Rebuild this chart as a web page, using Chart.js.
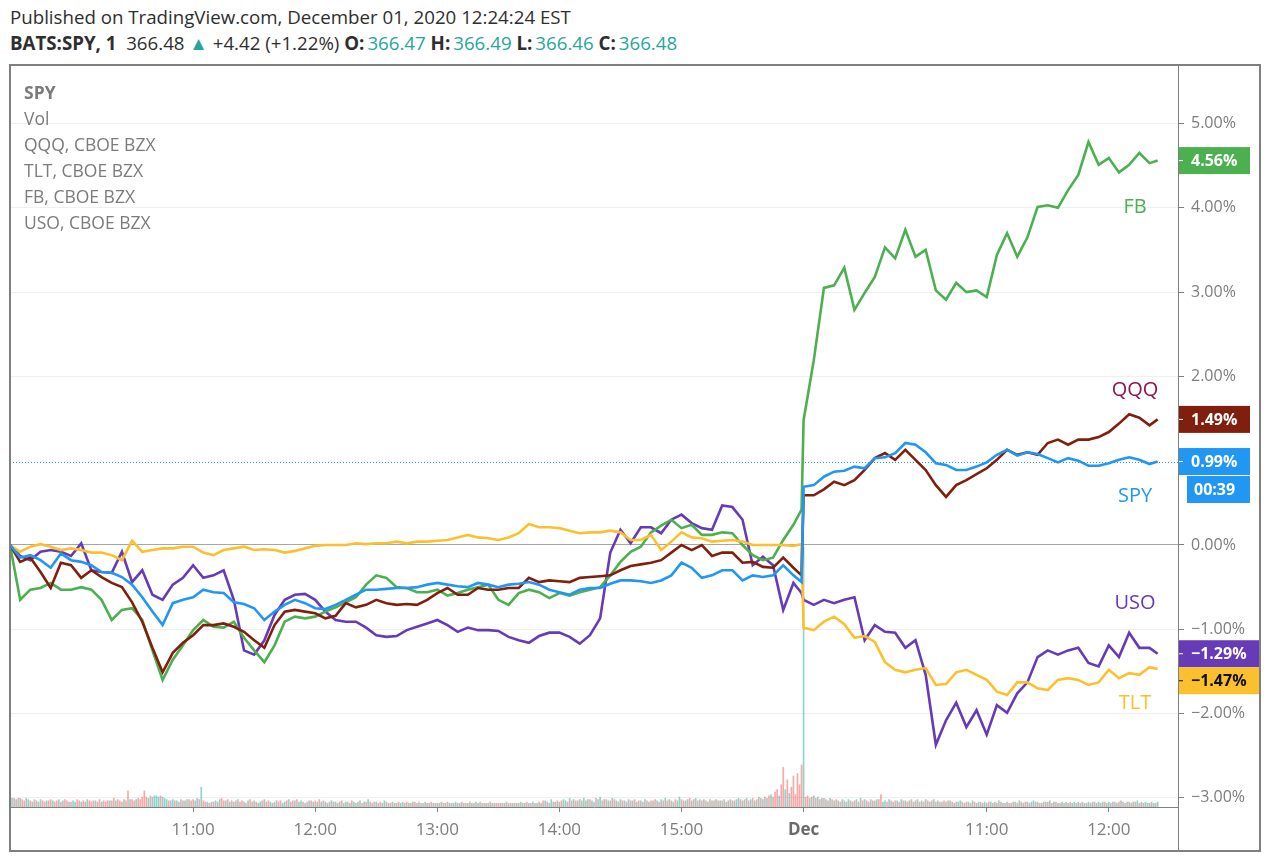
<!doctype html>
<html lang="en">
<head>
<meta charset="utf-8">
<title>SPY, QQQ, TLT, FB, USO</title>
<script src="https://cdn.jsdelivr.net/npm/chart.js@4.4.0/dist/chart.umd.min.js"></script>
<style>
  html, body { margin: 0; padding: 0; background: #fff; }
  body { width: 1270px; height: 861px; position: relative; overflow: hidden; font-family: "Open Sans", sans-serif; }
  #chart { position: absolute; left: 0; top: 0; }
  .hdr { position: absolute; left: 10px; white-space: nowrap; color: #2e2e2e; font-size: 18.7px; line-height: 22px; }
  .hdr b { font-weight: 700; }
  .up { color: #26a69a; }
  .val { margin-left: 3px; }
  .legend { position: absolute; left: 24px; top: 79px; color: #7b7b7b; font-size: 17.5px; line-height: 26px; white-space: nowrap; z-index: 2; }
</style>
</head>
<body>
  <div class="hdr" style="top:6px">Published on TradingView.com, December 01, 2020 12:24:24 EST</div>
  <div class="hdr" style="top:32px"><b>BATS:SPY, 1</b>&nbsp; 366.48 <span class="up">&#9650;</span> +4.42 (+1.22%) <b>O:</b><span class="up val">366.47</span> <b>H:</b><span class="up val">366.49</span> <b>L:</b><span class="up val">366.46</span> <b>C:</b><span class="up val">366.48</span></div>

  <canvas id="chart" width="1270" height="861"></canvas>

  <div class="legend">
    <div><b>SPY</b></div>
    <div>Vol</div>
    <div>QQQ, CBOE BZX</div>
    <div>TLT, CBOE BZX</div>
    <div>FB, CBOE BZX</div>
    <div>USO, CBOE BZX</div>
  </div>

<script>
// minutes since 09:30 Nov 30 (390 = 09:30 Dec 1), sampled every 5 min
const times = [];
for (let m = 0; m <= 385; m += 5) times.push(m);
times.push(389);
for (let m = 390; m <= 560; m += 5) times.push(m);
times.push(564);

const tickPos = [90, 150, 210, 270, 330, 390, 480, 540];
const tickText = ['11:00', '12:00', '13:00', '14:00', '15:00', 'Dec', '11:00', '12:00'];
const yTicks = [-3, -2, -1, 0, 1, 2, 3, 4, 5];

// % change
const spy = [
  0.00,-0.15,-0.12,-0.18,-0.27,-0.10,-0.18,-0.20,-0.24,-0.32,
  -0.33,-0.38,-0.47,-0.62,-0.79,-0.95,-0.69,-0.65,-0.62,-0.53,
  -0.56,-0.57,-0.68,-0.70,-0.75,-0.89,-0.79,-0.71,-0.65,-0.69,
  -0.75,-0.76,-0.71,-0.65,-0.59,-0.53,-0.53,-0.52,-0.51,-0.51,
  -0.50,-0.47,-0.45,-0.47,-0.49,-0.50,-0.45,-0.47,-0.50,-0.47,
  -0.46,-0.44,-0.47,-0.53,-0.56,-0.59,-0.53,-0.51,-0.51,-0.46,
  -0.42,-0.42,-0.43,-0.45,-0.42,-0.36,-0.21,-0.27,-0.39,-0.36,
  -0.30,-0.30,-0.42,-0.36,-0.38,-0.36,-0.24,-0.36,-0.44,
  0.69,0.71,0.81,0.87,0.88,0.93,0.91,1.03,1.04,1.09,
  1.21,1.19,1.10,0.97,0.95,0.89,0.89,0.93,0.98,1.07,
  1.13,1.06,1.10,1.08,1.03,0.98,1.03,1.00,0.94,0.94,
  0.97,1.01,1.04,1.01,0.96,0.99
];
const qqq = [
  0.00,-0.20,-0.15,-0.32,-0.51,-0.21,-0.24,-0.39,-0.30,-0.38,
  -0.45,-0.50,-0.68,-0.91,-1.22,-1.51,-1.28,-1.16,-1.07,-0.95,
  -0.95,-0.93,-0.97,-1.03,-1.13,-1.22,-0.95,-0.79,-0.77,-0.79,
  -0.81,-0.87,-0.84,-0.69,-0.74,-0.71,-0.65,-0.69,-0.71,-0.70,
  -0.71,-0.65,-0.57,-0.51,-0.59,-0.59,-0.51,-0.53,-0.53,-0.51,
  -0.51,-0.39,-0.44,-0.42,-0.43,-0.44,-0.39,-0.38,-0.37,-0.36,
  -0.30,-0.25,-0.23,-0.21,-0.18,-0.09,0.00,-0.06,0.00,-0.13,
  -0.09,-0.09,-0.21,-0.20,-0.26,-0.27,-0.15,-0.27,-0.36,
  0.59,0.59,0.66,0.75,0.71,0.77,0.89,1.03,1.09,1.01,
  1.13,1.01,0.89,0.71,0.57,0.71,0.77,0.84,0.91,1.01,
  1.13,1.07,1.10,1.07,1.21,1.25,1.19,1.25,1.25,1.28,
  1.34,1.44,1.55,1.51,1.42,1.49
];
const tlt = [
  0.00,-0.08,-0.02,0.01,-0.02,-0.06,-0.04,-0.06,-0.09,-0.09,
  -0.12,-0.18,0.05,-0.08,-0.06,-0.04,-0.04,-0.02,-0.02,-0.09,
  -0.12,-0.06,-0.04,-0.02,-0.06,-0.05,-0.06,-0.09,-0.07,-0.04,
  -0.01,0.00,0.00,0.00,0.02,0.01,0.02,0.02,0.04,0.02,
  0.04,0.04,0.05,0.06,0.09,0.12,0.09,0.08,0.06,0.09,
  0.14,0.25,0.21,0.21,0.20,0.17,0.14,0.15,0.15,0.17,
  0.15,0.06,0.06,0.12,-0.06,0.04,0.15,0.09,0.08,0.04,
  0.05,0.06,0.04,0.00,0.00,0.00,0.00,-0.01,0.01,
  -0.98,-1.01,-0.91,-0.85,-0.94,-1.10,-1.08,-1.15,-1.39,-1.48,
  -1.51,-1.48,-1.46,-1.66,-1.65,-1.51,-1.48,-1.54,-1.60,-1.74,
  -1.78,-1.63,-1.63,-1.70,-1.72,-1.60,-1.58,-1.60,-1.66,-1.63,
  -1.48,-1.58,-1.52,-1.54,-1.45,-1.47
];
const fb = [
  0.00,-0.65,-0.53,-0.51,-0.45,-0.53,-0.53,-0.50,-0.53,-0.65,
  -0.89,-0.77,-0.75,-0.89,-1.25,-1.60,-1.36,-1.19,-1.01,-0.89,
  -0.97,-0.98,-0.91,-1.10,-1.25,-1.39,-1.19,-0.91,-0.85,-0.87,
  -0.85,-0.79,-0.74,-0.68,-0.62,-0.47,-0.36,-0.39,-0.50,-0.51,
  -0.56,-0.56,-0.53,-0.60,-0.57,-0.53,-0.50,-0.47,-0.65,-0.71,
  -0.57,-0.53,-0.56,-0.63,-0.57,-0.60,-0.56,-0.53,-0.50,-0.36,
  -0.20,-0.08,-0.02,0.15,0.23,0.30,0.20,0.24,0.12,0.12,
  0.15,0.14,0.00,-0.12,-0.18,-0.15,0.06,0.24,0.42,
  1.48,2.19,3.05,3.08,3.29,2.79,2.99,3.18,3.53,3.40,
  3.74,3.42,3.50,3.02,2.91,3.11,3.00,3.02,2.94,3.44,
  3.70,3.42,3.65,4.01,4.03,4.00,4.21,4.39,4.78,4.51,
  4.59,4.42,4.51,4.65,4.53,4.56
];
const uso = [
  0.00,-0.13,-0.18,-0.08,-0.06,-0.08,-0.13,0.02,-0.30,-0.32,
  -0.33,-0.08,-0.44,-0.30,-0.59,-0.65,-0.47,-0.39,-0.24,-0.39,
  -0.36,-0.30,-0.65,-1.25,-1.30,-1.13,-0.83,-0.65,-0.59,-0.58,
  -0.65,-0.79,-0.89,-0.91,-0.91,-0.98,-1.07,-1.09,-1.08,-1.01,
  -0.97,-0.93,-0.89,-0.95,-1.03,-0.98,-1.01,-1.01,-1.02,-1.09,
  -1.13,-1.16,-1.08,-1.04,-1.04,-1.09,-1.17,-1.07,-0.87,-0.09,
  0.18,0.02,0.21,0.21,0.14,0.30,0.36,0.26,0.20,0.18,
  0.47,0.45,0.30,-0.24,-0.14,-0.24,-0.77,-0.45,-0.57,
  -0.65,-0.71,-0.65,-0.69,-0.65,-0.62,-1.13,-0.95,-1.03,-1.04,
  -1.22,-1.13,-1.54,-2.37,-2.08,-1.87,-2.16,-1.96,-2.25,-1.90,
  -1.99,-1.76,-1.63,-1.33,-1.25,-1.30,-1.25,-1.22,-1.40,-1.44,
  -1.19,-1.33,-1.04,-1.22,-1.22,-1.29
];

// SPY 1-min volume, one per minute; sign = bar direction (+ up, - down)
const spyVol = [
  -9,7,-7,6,-7,7,-6,-5,7,6, -5,4,-6,5,-4,6,-5,-4,5,-5, -6,5,-4,-5,6,-4,5,-6,-5,4, -4,5,4,-6,-5,4,-5,-4,6,-5,
  -4,-5,5,-4,-6,4,-5,-4,-5,5, -5,-7,5,-6,-5,-4,6,-5,-13,6, -6,-5,6,-7,-6,-8,-13,-8,7,-9, 8,9,9,8,-9,8,7,6,-5,5,
  6,-5,5,-4,6,-5,5,-6,6,-5, -6,5,7,-6,16,-5,-4,4,-3,4, -4,5,-4,6,-7,-5,5,-6,4,-5, 4,-5,6,-4,-5,4,-3,5,-6,-4,
  5,-4,3,4,-5,6,-4,-5,4,3, -4,5,-4,-5,3,4,-5,6,-4,-5, 5,-6,4,5,-4,3,-4,5,-5,4, -5,4,-6,4,-5,4,3,-4,5,-4,
  4,-3,4,-5,3,4,-4,3,-5,4, 3,-4,5,-3,4,-4,6,-4,3,-4, 4,-3,-4,3,5,-4,3,-3,4,-3, 3,-4,3,4,-3,-4,3,-3,4,-4,
  3,-4,3,-3,4,-3,3,-4,3,-3, 3,-3,4,-3,3,-4,3,-3,3,4, -3,3,-4,3,-3,3,-4,3,-3,4, 3,-4,3,-3,3,-3,4,-3,3,-3,
  -3,3,-3,3,-4,3,-3,3,-3,3, -3,4,-3,3,-4,3,-3,4,-3,3, -4,3,-5,5,-4,3,6,-4,4,-5, 4,-5,6,5,-4,7,-5,6,-5,5,
  -6,5,7,-5,6,-6,5,4,-7,6, 8,-5,6,-6,5,-5,7,-6,5,-4, 6,-5,5,-4,6,-5,5,-6,4,-5, 5,-4,6,-5,4,-5,5,-6,5,-4,
  6,-5,7,-5,6,-5,4,-6,5,8, -6,5,-5,6,-7,5,-6,7,-5,6, -5,6,-5,4,-6,5,-5,6,-5,5, -5,6,-4,5,-6,5,-5,6,7,-6,
  5,-6,7,-5,6,-7,5,-6,8,-7, 6,-8,7,-9,10,-8,-12,-14,9,-18, -32,14,-22,11,-16,-25,-10,-27,-18,-34,
  210,-8,-9,7,-8,9,-7,8,-6,7, -7,6,-5,7,-6,5,-6,5,-4,6, -5,4,6,-5,4,-5,6,-4,7,-5, 6,-5,4,-6,5,-5,6,-6,-10,4,
  5,-4,6,-5,4,-5,5,-4,6,-5, 5,-4,5,-6,4,-5,6,-4,5,-4, 6,-5,4,-5,6,-4,5,-4,4,-5, 4,-5,5,-4,3,-4,4,5,-4,3,
  -4,4,-3,5,-4,3,-4,4,-3,4, 3,-4,4,-3,4,-3,5,-4,3,-3, 4,-3,3,-4,4,-3,5,-4,3,-4, 4,-3,4,5,-4,4,-3,3,-4,4,
  -4,5,-3,4,-4,3,-3,4,-3,4, 3,-4,3,4,-3,4,-3,4,-3,3, 4,-3,4,-4,3,4,-3,4,-4,3, 4,-3,4,-4,3,-4,5,-4,3,-4,
  4,-3,4,-4,5,-3,4,-3,4,3, -3,4,3,-3,4
];

const series = [
  { name: 'SPY', vals: spy, line: '#2196f3', label: '#2196f3', box: '#2196f3', txt: '#fff', off: 35, wide: false },
  { name: 'QQQ', vals: qqq, line: '#801f0e', label: '#8c1450', box: '#801f0e', txt: '#fff', off: -29, wide: false },
  { name: 'TLT', vals: tlt, line: '#fbc02d', label: '#fbc02d', box: '#fbc02d', txt: '#111', off: 34, wide: true },
  { name: 'FB',  vals: fb,  line: '#4caf50', label: '#4caf50', box: '#4caf50', txt: '#fff', off: 47, wide: false },
  { name: 'USO', vals: uso, line: '#673ab7', label: '#673ab7', box: '#673ab7', txt: '#fff', off: -50, wide: true }
];

const fmtPct = v => (v < 0 ? '\u2212' : '') + Math.abs(v).toFixed(2) + '%';
const FONT = '"Open Sans", sans-serif';

const datasets = series.map((s, i) => ({
  type: 'line',
  label: s.name,
  data: times.map((t, j) => ({ x: t, y: s.vals[j] })),
  borderColor: s.line,
  borderWidth: 2.6,
  pointRadius: 0,
  tension: 0,
  yAxisID: 'y',
  order: i === 0 ? 1 : 2 + i
}));

datasets.push({
  type: 'bar',
  label: 'Vol',
  data: spyVol.map((v, i) => ({ x: i, y: Math.abs(v) })),
  backgroundColor: spyVol.map(v => v >= 0 ? 'rgba(38,166,154,0.5)' : 'rgba(239,83,80,0.5)'),
  barThickness: 1,
  yAxisID: 'yv',
  order: 20
});

const overlay = {
  id: 'overlay',
  beforeDatasetsDraw(chart) {
    const { ctx, chartArea: a, scales: { y } } = chart;
    // last price line of SPY
    const py = Math.round(y.getPixelForValue(spy[spy.length - 1])) + 0.5;
    ctx.save();
    ctx.strokeStyle = '#2196f3';
    ctx.lineWidth = 1;
    ctx.setLineDash([1, 2]);
    ctx.beginPath();
    ctx.moveTo(a.left, py);
    ctx.lineTo(a.right, py);
    ctx.stroke();
    ctx.restore();
  },
  afterDraw(chart) {
    const { ctx, chartArea: a, scales: { y } } = chart;
    ctx.save();

    // series names next to the line ends
    ctx.font = '20px ' + FONT;
    ctx.textAlign = 'center';
    ctx.textBaseline = 'middle';
    series.forEach(s => {
      ctx.fillStyle = s.label;
      ctx.fillText(s.name, 1135, y.getPixelForValue(s.vals[s.vals.length - 1]) + s.off);
    });

    // price boxes on the axis, stacked when they collide
    const H = 27;
    const bx = series.map(s => ({ s, v: s.vals[s.vals.length - 1], top: y.getPixelForValue(s.vals[s.vals.length - 1]) - H / 2 }))
      .sort((p, q) => p.top - q.top);
    for (let i = 1; i < bx.length; i++) {
      if (bx[i].top < bx[i - 1].top + H) bx[i].top = bx[i - 1].top + H;
    }
    ctx.textAlign = 'left';
    ctx.font = 'bold 16px ' + FONT;
    bx.forEach(b => {
      const w = b.s.wide ? 81 : 72;
      ctx.fillStyle = b.s.box;
      ctx.fillRect(a.right, b.top, w, H);
      ctx.fillStyle = b.s.txt;
      ctx.fillRect(a.right, b.top + H / 2 - 0.5, 5, 1);
      ctx.fillText(fmtPct(b.v), 1191, b.top + H / 2 + 1);
      if (b.s.name === 'SPY') {
        ctx.fillStyle = '#2196f3';
        ctx.fillRect(1187, b.top + H + 1, 63, H);
        ctx.fillStyle = '#fff';
        ctx.fillText('00:39', 1194, b.top + H + 1 + H / 2 + 1);
      }
    });

    // frame and axis separator
    ctx.strokeStyle = '#7f7f7f';
    ctx.lineWidth = 1;
    ctx.beginPath();
    ctx.moveTo(a.right + 0.5, 65);
    ctx.lineTo(a.right + 0.5, 851);
    ctx.stroke();
    ctx.lineWidth = 2;
    ctx.strokeRect(10, 65, 1250, 786);
    ctx.restore();
  }
};

new Chart(document.getElementById('chart'), {
  data: { datasets },
  options: {
    responsive: false,
    animation: false,
    devicePixelRatio: 1,
    layout: { padding: { left: 10, top: 65, right: 10, bottom: 10 } },
    plugins: { legend: { display: false }, tooltip: { enabled: false } },
    scales: {
      x: {
        type: 'linear',
        offset: false,
        min: 0,
        max: 574,
        afterBuildTicks: sc => { sc.ticks = tickPos.map(v => ({ value: v })); },
        afterFit: sc => { sc.height = 44; },
        grid: { display: true, offset: false, drawOnChartArea: false, tickLength: 5, tickColor: '#7f7f7f' },
        border: { display: true, color: '#7f7f7f' },
        ticks: {
          padding: 8,
          maxRotation: 0,
          autoSkip: false,
          color: ctx => ctx.tick && ctx.tick.value === 390 ? '#6a6a6a' : '#7d7d7d',
          font: ctx => ({ family: FONT, size: 17, weight: ctx.tick && ctx.tick.value === 390 ? 'bold' : 'normal' }),
          callback: v => tickText[tickPos.indexOf(v)] ?? ''
        }
      },
      y: {
        position: 'right',
        min: -3.108,
        max: 5.694,
        afterBuildTicks: sc => { sc.ticks = yTicks.map(v => ({ value: v })); },
        afterFit: sc => { sc.width = 82; },
        grid: {
          color: ctx => ctx.tick.value === 0 ? '#a6a6a6' : ctx.tick.value === 1 ? 'rgba(0,0,0,0)' : '#efefef',
          tickLength: 6,
          tickColor: '#7f7f7f'
        },
        border: { display: false },
        ticks: {
          padding: 7,
          color: '#7d7d7d',
          font: { family: FONT, size: 16 },
          callback: v => v === 1 ? '' : fmtPct(v)
        }
      },
      yv: {
        display: false,
        min: 0,
        max: 600
      }
    }
  },
  plugins: [overlay]
});
</script>
</body>
</html>
